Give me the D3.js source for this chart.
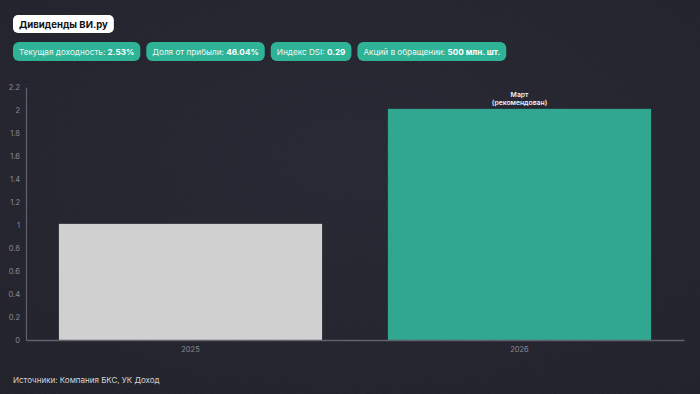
<!DOCTYPE html>
<html><head><meta charset="utf-8">
<script src="https://cdn.jsdelivr.net/npm/d3@7"></script>
<style>
html,body{margin:0;padding:0;background:#2a2a36;}
svg{display:block;font-family:Inter, "Noto Sans", sans-serif;}
</style></head>
<body><svg id="c" width="700" height="394"></svg>
<script>
const categories = ["2025", "2026"];
const values = [1.01, 2.01];
const barColors = ["#d0d0d0", "#31a690"];
const barLabels = [[], ["Март", "(рекомендован)"]];
const yTicks = [0, 0.2, 0.4, 0.6, 0.8, 1, 1.2, 1.4, 1.6, 1.8, 2, 2.2];
const title = "Дивиденды ВИ.ру";
const pillLabels = ["Текущая доходность: ", "Доля от прибыли: ", "Индекс DSI: ", "Акций в обращении: "];
const pillValues = ["2.53%", "46.04%", "0.29", "500 млн. шт."];
const source = "Источники: Компания БКС, УК Доход";

const svg = d3.select("#c");
const defs = svg.append("defs");
const g0 = defs.append("radialGradient").attr("id","bg").attr("cx","50%").attr("cy","40%").attr("r","75%");
g0.append("stop").attr("offset","0%").attr("stop-color","#2e2e3b");
g0.append("stop").attr("offset","100%").attr("stop-color","#272731");
const nf = defs.append("filter").attr("id","noise").attr("x",0).attr("y",0).attr("width","100%").attr("height","100%");
nf.append("feTurbulence").attr("type","fractalNoise").attr("baseFrequency",0.9).attr("numOctaves",2).attr("seed",3);
nf.append("feColorMatrix").attr("type","matrix").attr("values","0 0 0 0 0  0 0 0 0 0  0 0 0 0 0  0 0 0 0.18 0");
svg.append("rect").attr("width",700).attr("height",394).attr("fill","url(#bg)");
svg.append("rect").attr("width",700).attr("height",394).attr("filter","url(#noise)");

// title box
const tt = svg.append("text").attr("x",19).attr("y",27.8).attr("font-size",9.6).attr("font-weight",700)
  .attr("fill","#111").text(title);
const tw = tt.node().getComputedTextLength();
svg.insert("rect","text").attr("x",13).attr("y",15).attr("width",tw+12).attr("height",18).attr("rx",5).attr("fill","#ffffff");

// pills
let px = 13;
pillLabels.forEach((lab,i)=>{
  const g = svg.append("g");
  const r = g.append("rect").attr("y",42).attr("height",19).attr("rx",6).attr("fill","#2fb396");
  const t = g.append("text").attr("x",px+6).attr("y",55).attr("font-size",8.2).attr("fill","#eef6f4");
  t.append("tspan").text(lab);
  t.append("tspan").attr("font-weight",700).attr("fill","#ffffff").text(pillValues[i]);
  const w = t.node().getComputedTextLength()+12;
  r.attr("x",px).attr("width",w);
  px += w + 6;
});

// chart
const x = d3.scaleBand().domain(categories).range([26,684]).paddingInner(0.2).paddingOuter(0.1);
const y = d3.scaleLinear().domain([0,2.2]).range([340,87]);

const ya = svg.append("g").attr("transform","translate(26,0)")
  .call(d3.axisLeft(y).tickValues(yTicks).tickSize(0).tickPadding(6).tickFormat(d=>d3.format("~g")(d)));
ya.select(".domain").attr("stroke","#62626c").attr("stroke-width",1.2);
ya.selectAll("text").attr("fill","#8b8b96").attr("font-size",7.5).attr("font-family","Inter, sans-serif");

svg.selectAll(".bar").data(categories).enter().append("rect")
  .attr("x",d=>x(d)).attr("width",x.bandwidth())
  .attr("y",(d,i)=>y(values[i])).attr("height",(d,i)=>y(0)-y(values[i]))
  .attr("fill",(d,i)=>barColors[i]);

categories.forEach((c,i)=>{
  barLabels[i].forEach((l,j)=>{
    svg.append("text").attr("x",x(c)+x.bandwidth()/2).attr("y",y(values[i])-12+j*8.5)
      .attr("text-anchor","middle").attr("font-size",6.8).attr("font-weight",600).attr("fill","#f2f2f2").text(l);
  });
});

const xa = svg.append("g").attr("transform","translate(0,340)")
  .call(d3.axisBottom(x).tickSize(0).tickPadding(7));
xa.select(".domain").attr("stroke","#62626c").attr("stroke-width",1.5);
xa.selectAll("text").attr("fill","#8b8b96").attr("font-size",7.5).attr("font-family","Inter, sans-serif");

svg.append("text").attr("x",13).attr("y",383).attr("font-size",8).attr("fill","#d4d4d8").text(source);
</script></body></html>
